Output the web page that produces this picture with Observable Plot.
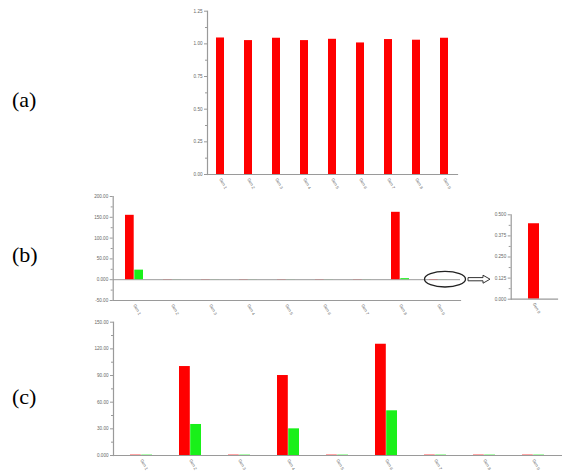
<!DOCTYPE html>
<html><head><meta charset="utf-8">
<script src="https://cdn.jsdelivr.net/npm/d3@7"></script>
<script src="https://cdn.jsdelivr.net/npm/@observablehq/plot@0.6"></script>
<style>
body{margin:0;background:#fff;}
#fig{position:relative;width:562px;height:472px;overflow:hidden;background:#fff;}
#fig svg{position:absolute;overflow:visible;}
.lab{position:absolute;font-size:22px;font-family:"Liberation Serif","Times New Roman",serif;color:#000;line-height:1;}
</style></head><body><div id="fig"></div>
<script>
// ---------- data ----------
const categories = ["Gen 1","Gen 2","Gen 3","Gen 4","Gen 5","Gen 6","Gen 7","Gen 8","Gen 9"];
const panelAValues = [1.045,1.025,1.043,1.025,1.035,1.007,1.033,1.028,1.043];
const panelBRed   = [154.8,0.3,0.3,0.3,0.3,0.3,0.3,162.0,0.447];
const panelBGreen = [23.0,0.1,0.1,0.1,0.1,0.1,0.1,2.5,0.1];
const insetCategories = ["Gen 9"];
const insetRed = [0.447];
const panelCRed   = [0.4,100.1,0.4,90.0,0.4,125.2,0.4,0.4,0.4];
const panelCGreen = [0.4,34.9,0.4,30.0,0.4,50.3,0.4,0.4,0.4];

const ticksA = [0,0.25,0.5,0.75,1.0,1.25];
const ticksALabels = ["0.00","0.25","0.50","0.75","1.00","1.25"];
const minorA = [0.125,0.375,0.625,0.875,1.125];
const ticksB = [-50,0,50,100,150,200];
const ticksBLabels = ["-50.00","0.000","50.00","100.00","150.00","200.00"];
const minorB = [-25,25,75,125,175];
const ticksInset = [0,0.125,0.25,0.375,0.5];
const ticksInsetLabels = ["0.000","0.125","0.250","0.375","0.500"];
const minorInset = [0.0625,0.1875,0.3125,0.4375];
const ticksC = [0,30,60,90,120,150];
const ticksCLabels = ["0.000","30.00","60.00","90.00","120.00","150.00"];
const minorC = [15,45,75,105,135];

const RED = "#ff0000", GREEN = "#19f019", AXIS = "#9a9a9a", TXT = "#666";
const fig = document.getElementById("fig");

function place(svg, left, top){ svg.style.left = left+"px"; svg.style.top = top+"px"; fig.appendChild(svg); return svg; }
function yAxes(ticks, labels, minor){
  const m = new Map(ticks.map((t,i)=>[t,labels[i]]));
  return [
    Plot.axisY(ticks, {tickFormat: d => m.get(d), tickSize: 3, tickPadding: 2, fontSize: 4.6, stroke: AXIS, fill: TXT}),
    Plot.axisY(minor, {tickFormat: () => "", tickSize: 2, stroke: AXIS})
  ];
}
function xAxis(){ return Plot.axisX({tickSize: 0, tickRotate: 62, fontSize: 4.2, tickPadding: 4, fill: TXT}); }
const base = {style: {background: "transparent", fontFamily: "Liberation Sans, Arial, sans-serif"}};

// ---------- panel (a) ----------
const dataA = categories.map((c,i)=>({cat:c, v:panelAValues[i]}));
place(Plot.plot({...base, width:562, height:200, marginLeft:207, marginRight:105, marginTop:10.7, marginBottom:26,
  x:{domain:categories, paddingInner:0.714, paddingOuter:0.321, label:null},
  y:{domain:[0,1.25], label:null},
  marks:[
    Plot.barY(dataA,{x:"cat", y:"v", fill:RED}),
    ...yAxes(ticksA, ticksALabels, minorA),
    xAxis(),
    Plot.frame({anchor:"left", stroke:AXIS, strokeWidth:1.2}),
    Plot.frame({anchor:"bottom", stroke:AXIS, strokeWidth:1.2})
  ]}), 0, 0);

// ---------- panel (b) ----------
const dataBr = categories.map((c,i)=>({cat:c, v:panelBRed[i]}));
const dataBg = categories.map((c,i)=>({cat:c, v:panelBGreen[i]}));
const chartB = Plot.plot({...base, width:562, height:140, marginLeft:112.7, marginRight:102, marginTop:16, marginBottom:20,
  x:{domain:categories, paddingInner:0.52, paddingOuter:0.26, label:null},
  y:{domain:[-50,200], label:null},
  marks:[
    Plot.ruleY([0],{stroke:AXIS, strokeWidth:1}),
    Plot.barY(dataBr,{x:"cat", y:"v", fill:RED, insetRight:9.3}),
    Plot.barY(dataBg,{x:"cat", y:"v", fill:GREEN, insetLeft:9.3}),
    ...yAxes(ticksB, ticksBLabels, minorB),
    xAxis(),
    Plot.frame({anchor:"left", stroke:AXIS, strokeWidth:1.2}),
    Plot.frame({anchor:"bottom", stroke:AXIS, strokeWidth:1.2})
  ]});
place(chartB, 0, 180);
{
  const xs = chartB.scale("x"), ys = chartB.scale("y");
  const cx = xs.apply(categories[8]) + xs.bandwidth/2 + 7, cy = ys.apply(0);
  const g = d3.select(chartB).append("g");
  g.append("ellipse").attr("cx",cx).attr("cy",cy).attr("rx",20.5).attr("ry",7.8)
    .attr("fill","none").attr("stroke","#222").attr("stroke-width",1.3);
  const x0 = cx + 23, y0 = cy;
  g.append("path").attr("d",`M${x0},${y0-1.6}H${x0+15}V${y0-4}L${x0+22},${y0}L${x0+15},${y0+4}V${y0+1.6}H${x0}Z`)
    .attr("fill","#fff").attr("stroke","#333").attr("stroke-width",1);
}

// ---------- inset ----------
const dataIn = insetCategories.map((c,i)=>({cat:c, v:insetRed[i]}));
place(Plot.plot({...base, width:82, height:140, marginLeft:30.7, marginRight:5, marginTop:34.3, marginBottom:21.3,
  x:{domain:insetCategories, paddingInner:0.67, paddingOuter:0.5, label:null},
  y:{domain:[0,0.5], label:null},
  marks:[
    Plot.barY(dataIn,{x:"cat", y:"v", fill:RED}),
    ...yAxes(ticksInset, ticksInsetLabels, minorInset),
    xAxis(),
    Plot.frame({anchor:"left", stroke:AXIS, strokeWidth:1.2}),
    Plot.frame({anchor:"bottom", stroke:AXIS, strokeWidth:1.2})
  ]}), 480, 180);

// ---------- panel (c) ----------
const dataCr = categories.map((c,i)=>({cat:c, v:panelCRed[i]}));
const dataCg = categories.map((c,i)=>({cat:c, v:panelCGreen[i]}));
place(Plot.plot({...base, width:562, height:162, marginLeft:113, marginRight:0, marginTop:11.7, marginBottom:17,
  x:{domain:categories, paddingInner:0.55, paddingOuter:0.275, label:null},
  y:{domain:[0,150], label:null},
  marks:[
    Plot.barY(dataCr,{x:"cat", y:"v", fill:RED, insetRight:11.2}),
    Plot.barY(dataCg,{x:"cat", y:"v", fill:GREEN, insetLeft:11.2}),
    ...yAxes(ticksC, ticksCLabels, minorC),
    xAxis(),
    Plot.frame({anchor:"left", stroke:AXIS, strokeWidth:1.2}),
    Plot.frame({anchor:"bottom", stroke:AXIS, strokeWidth:1.2})
  ]}), 0, 310);

// ---------- panel labels ----------
[["(a)",12,89],["(b)",12,244],["(c)",12,386]].forEach(([t,l,tp])=>{
  const d = document.createElement("div"); d.className="lab"; d.textContent=t;
  d.style.left=l+"px"; d.style.top=tp+"px"; fig.appendChild(d);
});
</script></body></html>
